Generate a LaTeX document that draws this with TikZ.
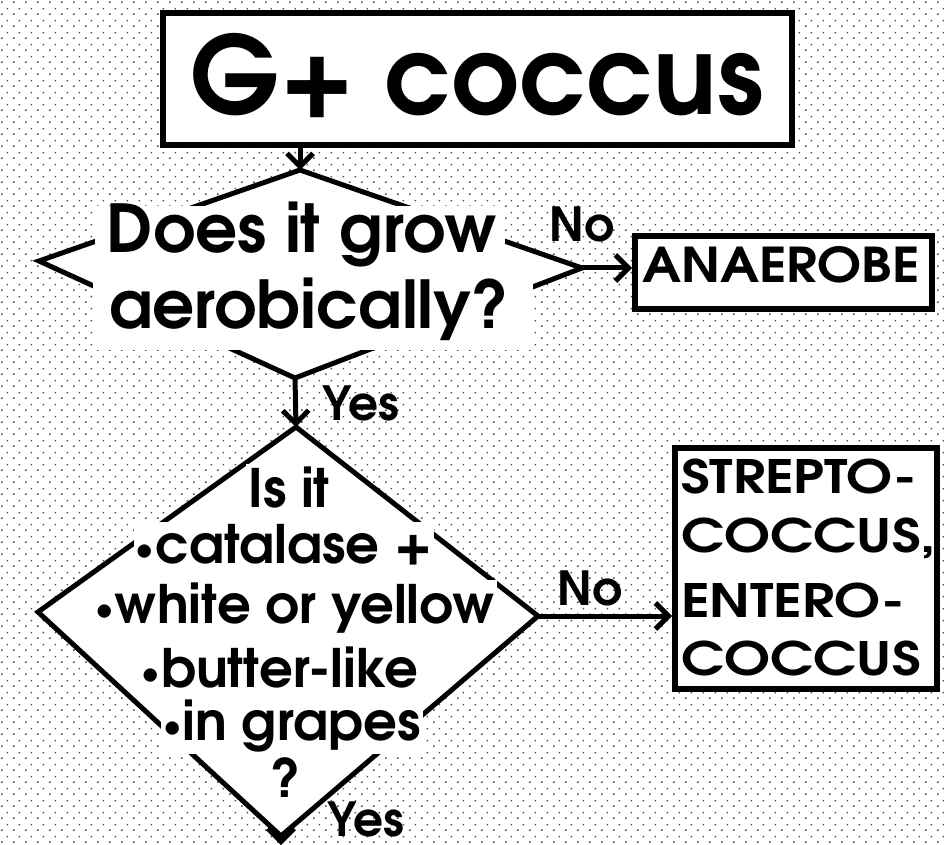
\documentclass[tikz,border=0pt]{standalone}
\usepackage{fontspec}
\setmainfont{TeX Gyre Adventor}
\usetikzlibrary{arrows.meta,patterns.meta}
\newcommand{\smallbul}{\raisebox{4pt}{\scalebox{0.6}{•}}\hspace{1pt}}
\tikzdeclarepattern{
  name=bgdots,
  type=uncolored,
  bounding box={(0pt,0pt) and (12pt,12pt)},
  tile size={(12pt,12pt)},
  code={
    \fill (2.2pt,2.2pt) rectangle (3.8pt,3.8pt);
    \fill (8.2pt,8.2pt) rectangle (9.8pt,9.8pt);
  }
}
\tikzset{
  box/.style={draw=black, fill=white, line width=6pt, rectangle, inner sep=0pt},
  diaedge/.style={draw=black, fill=white, line width=5pt, line join=miter},
  conn/.style={line width=5pt, -{Straight Barb[length=13pt,width=26pt]}},
  big/.style={font=\fontsize{108}{108}\selectfont\bfseries, inner sep=0pt},
  qone/.style={font=\fontsize{66}{66}\selectfont\bfseries, inner sep=0pt},
  qtwo/.style={font=\fontsize{53}{53}\selectfont\bfseries, inner sep=2pt, fill=white},
  lbl/.style={font=\fontsize{47}{47}\selectfont\bfseries, inner sep=0pt},
  res/.style={font=\fontsize{48}{48}\selectfont\bfseries, inner sep=0pt},
  res2/.style={font=\fontsize{46}{46}\selectfont\bfseries, inner sep=0pt}
}
\begin{document}
\begin{tikzpicture}[x=1pt,y=-1pt]
\useasboundingbox (0,0) rectangle (948,845);
\fill[white] (0,0) rectangle (948,845);
\fill[pattern=bgdots, pattern color=black!70] (0,0) rectangle (948,845);

% title
\node[box, minimum width=629pt, minimum height=132pt] (title) at (477.5,79) {};
\node[big, anchor=base] (ttl) at (477,115) {\scalebox{0.975}[1]{G+ coccus}};

% diamond 1
\coordinate (d1t) at (300,170);
\coordinate (d1r) at (582,268);
\coordinate (d1b) at (295,378);
\coordinate (d1l) at (39,261);
\path[diaedge] (d1t) -- (d1r) -- (d1b) -- (d1l) -- cycle;
\fill[white] (95,206) rectangle (505,256);
\fill[white] (93,256) rectangle (533,350);
\node[qone, anchor=base] (q1a) at (302,252) {Does it grow};
\node[qone, anchor=base] (q1b) at (309,328) {aerobically?};

% result boxes
\node[box, minimum width=297pt, minimum height=73pt] (anaer) at (783.5,272.5) {};
\node[res, anchor=base] (anaert) at (781,283) {\scalebox{1.1}[1]{ANAEROBE}};
\node[box, minimum width=262pt, minimum height=241pt] (strep) at (806,568.5) {};
\node[res2, anchor=base west] (s1) at (681,493) {\scalebox{1.2}[1]{STREPTO-}};
\node[res2, anchor=base west] (s2) at (681,552) {\scalebox{1.2}[1]{COCCUS,}};
\node[res2, anchor=base west] (s3) at (681,617) {\scalebox{1.2}[1]{ENTERO-}};
\node[res2, anchor=base west] (s4) at (681,675) {\scalebox{1.2}[1]{COCCUS}};

% diamond 2
\coordinate (d2t) at (296,427);
\coordinate (d2r) at (538,616);
\coordinate (d2b) at (281,836);
\coordinate (d2l) at (38,612);
\coordinate (d2out) at (281,845);
\path[diaedge] (d2t) -- (d2r) -- (d2b) -- (d2l) -- cycle;
\node[qtwo, anchor=base] (q2a) at (289,507) {Is it};
\node[qtwo, anchor=base] (q2b) at (284,563) {\smallbul catalase +};
\node[qtwo, anchor=base] (q2c) at (295,623) {\smallbul white or yellow};
\node[qtwo, anchor=base] (q2d) at (280,687) {\smallbul butter-like};
\node[qtwo, anchor=base] (q2e) at (292,740) {\smallbul in grapes};
\node[qtwo, anchor=base] (q2f) at (286,797) {?};

% connectors
\draw[conn] (title.south -| d1t) -- (d1t);
\draw[conn] (d1r) -- (anaer.west |- d1r);
\draw[conn] (d1b) -- (d2t);
\draw[conn] (d2r) -- (strep.west |- d2r);
\draw[conn] (d2b) -- (d2out);

% labels
\node[lbl, anchor=base] (no1) at (582,242) {No};
\node[lbl, anchor=base west] (yes1) at (322,420) {Yes};
\node[lbl, anchor=base] (no2) at (590,605) {No};
\node[lbl, anchor=base west] (yes2) at (327,836) {Yes};
\end{tikzpicture}
\end{document}
